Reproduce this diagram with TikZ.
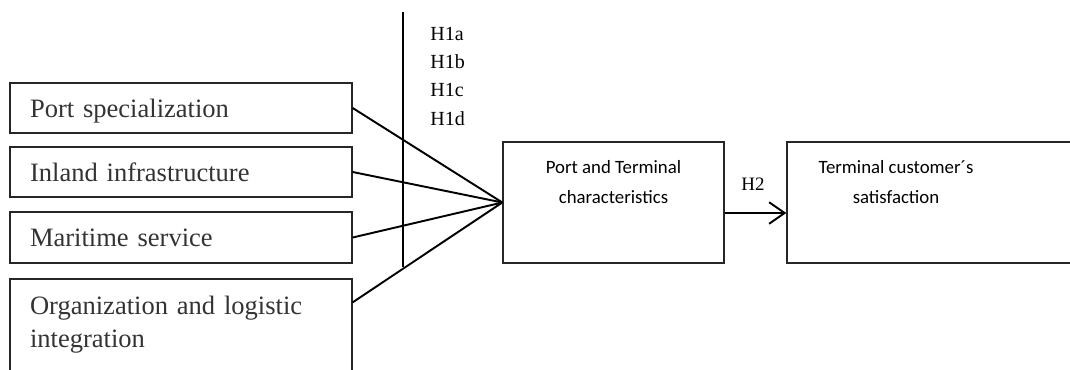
\documentclass[tikz,border=0pt]{standalone}
\usepackage{fontspec}
\usetikzlibrary{arrows.meta,positioning}
\newfontfamily\timesfont{Liberation Serif}
\newfontfamily\calibrifont{Carlito}
\tikzset{factor/.style={draw=black!85, line width=0.8pt, text=black!80,
    font=\timesfont\fontsize{15.1}{18.8}\selectfont, text width=6.04cm,
    inner xsep=0.4cm, inner ysep=0pt, align=left, minimum height=1cm},
construct/.style={draw=black!85, line width=0.8pt, minimum height=2.42cm},
constructtext/.style={font=\calibrifont\fontsize{10.7}{17}\selectfont, align=center, inner sep=0pt},
hyp/.style={font=\timesfont\fontsize{11.4}{13}\selectfont, inner sep=0pt, anchor=base west},
link/.style={line width=1.1pt}}

\begin{document}
\begin{tikzpicture}[x=0.02cm, y=-0.02cm]

\useasboundingbox (0,0) rectangle (1070,369);
\clip (0,0) rectangle (1070,369);

\node[factor, text depth=0pt] (spec) at (181,108) {Port specialization};
\node[factor, text depth=0pt] (inland) at (181,172) {Inland infrastructure};
\node[factor, text depth=0pt, minimum height=1.02cm] (maritime) at (181,237.5) {Maritime service};
\node[factor, minimum height=1.84cm] (org) at (181,325) {Organization and logistic\\integration};

\node[construct, minimum width=4.42cm] (ptc) at (613.5,202.5) {};
\node[constructtext] (ptctext) at (613.5,182) {Port and Terminal\\characteristics};

\node[construct, minimum width=6.26cm] (tcs) at (943.5,202.5) {};
\node[constructtext] (tcstext) at (896,182) {Terminal customer´s\\satisfaction};

\coordinate (bartop) at (403,12);
\coordinate (barbot) at (403,267);
\draw[link] (bartop) -- (barbot);

\foreach \h [count=\i] in {a,b,c,d}
    \node[hyp] (h1\h) at (430,{40.7+28.1*(\i-1)}) {H1\h};

\foreach \f in {spec,inland,maritime}
    \draw[link] (\f.east) -- (ptc.west);
\draw[link] ([yshift=-0.48cm]org.north east) -- (ptc.west);

\draw[link, -{Straight Barb[length=0.31cm,width=0.43cm]}] ([yshift=-0.21cm]ptc.east) -- ([yshift=-0.21cm]tcs.west);
\node[hyp, font=\timesfont\fontsize{10.8}{13}\selectfont] (h2) at (741,190) {H2};

\end{tikzpicture}
\end{document}
